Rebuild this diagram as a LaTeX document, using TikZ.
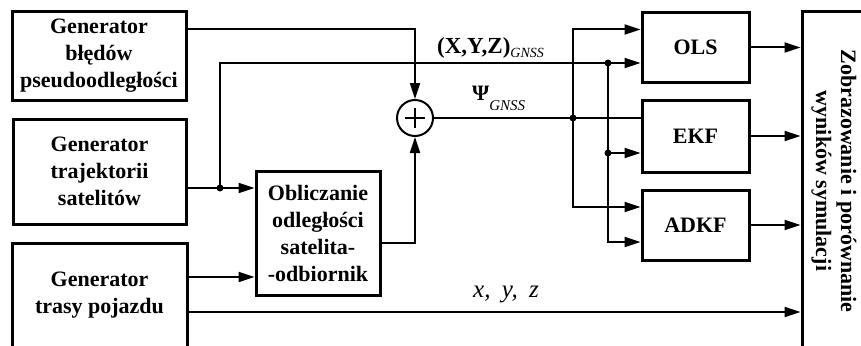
\documentclass[tikz,border=0pt]{standalone}
\usepackage{fontspec}
\setmainfont{Liberation Serif}
\usetikzlibrary{arrows.meta}

\begin{document}
\begin{tikzpicture}[
    x=1pt, y=-1pt,
    >={Triangle[length=16pt, width=10pt]},
    blok/.style={rectangle, draw, line width=3pt, align=center, inner sep=2pt,
                 font=\fontsize{22}{27}\selectfont\bfseries},
    arr/.style={->, line width=2pt},
    lin/.style={line width=2pt},
    lbl/.style={inner sep=0pt, anchor=base west}
]
\useasboundingbox (0,0) rectangle (861,345);

% generatory
\node[blok, minimum width=174pt, minimum height=88pt]  (gbl) at (99,56) {Generator\\błędów\\pseudoodległości};
\node[blok, minimum width=173pt, minimum height=105pt] (gtr) at (99.5,171.5) {Generator\\trajektorii\\satelitów};
\node[blok, minimum width=175pt, minimum height=104pt] (gtp) at (99.5,295) {Generator\\trasy pojazdu};
\node[blok, minimum width=124pt, minimum height=124pt] (obl) at (318,233) {Obliczanie\\odległości\\satelita-\\-odbiornik};

% sumator
\node[circle, draw, line width=2pt, minimum size=36pt] (sum) at (415,118) {};
\draw[lin] ([xshift=-10pt]sum.center) -- ([xshift=10pt]sum.center)
           ([yshift=-10pt]sum.center) -- ([yshift=10pt]sum.center);

% estymatory
\node[blok, minimum width=107pt, minimum height=69pt] (ols)  at (695.5,47.5) {OLS};
\node[blok, minimum width=107pt, minimum height=72pt] (ekf)  at (695.5,136) {EKF};
\node[blok, minimum width=107pt, minimum height=70pt] (adkf) at (695.5,225) {ADKF};

\node[blok, minimum width=64pt, minimum height=338pt] (zob) at (834,181) {};
\node[rotate=-90, align=center, font=\fontsize{22}{25}\selectfont\bfseries] (zobtxt) at (zob.center)
    {Zobrazowanie i porównanie\\wyników symulacji};

\coordinate (j1) at (220,188);
\coordinate (j2) at (608,63);
\coordinate (j3) at (573,118);
\coordinate (j4) at (608,153);
\coordinate (k1) at (200,277);
\coordinate (k2) at (200,312);

\draw[arr] ([yshift=27pt]gbl.east) -| (sum.north);
\draw[arr] (gtr.east |- j1) -- (obl.west |- j1);
\draw[arr] (j1) |- (ols.west |- j2);
\draw[arr] (j2) |- ([yshift=-17pt]adkf.west);
\draw[arr] (j4) -- (ekf.west |- j4);
\draw[lin] (sum.east) -- (ekf.west |- sum.east);
\draw[arr] (j3) |- ([yshift=18pt]ols.west);
\draw[arr] (j3) |- ([yshift=18pt]adkf.west);
\draw[arr] ([yshift=-10pt]obl.east) -| (sum.south);
\draw[arr] (gtp.east |- k1) -- (obl.west |- k1);
\draw[arr] (gtp.east |- k2) -- (zob.west |- k2);

\draw[arr] (ols) -- (zob.west |- ols);
\draw[arr] (ekf) -- (zob.west |- ekf);
\draw[arr] (adkf) -- (zob.west |- adkf);

\fill (j1) circle (3.5pt);
\fill (j2) circle (3.5pt);
\fill (j3) circle (3.5pt);
\fill (j4) circle (3.5pt);

% etykiety
\node[lbl] (lxyz) at (437,54) {{\fontsize{23}{26}\selectfont\bfseries (X,Y,Z)}\raisebox{-4pt}{\fontsize{14}{16}\selectfont\itshape GNSS}};
\node[lbl] (lpsi) at (472,100) {{\fontsize{22}{26}\selectfont\bfseries Ψ}\raisebox{-10pt}{\fontsize{15}{16}\selectfont\itshape GNSS}};
\node[lbl] (lpoz) at (473,297) {\fontsize{25}{26}\selectfont\itshape x,\hspace{0.45em}y,\hspace{0.45em}z};
\end{tikzpicture}
\end{document}
